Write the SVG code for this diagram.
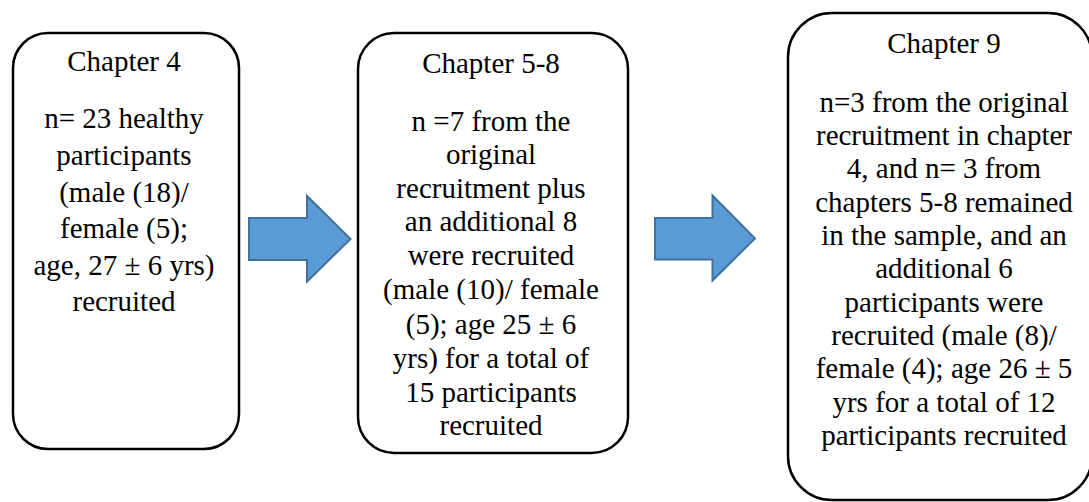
<svg xmlns="http://www.w3.org/2000/svg" width="1089" height="502" viewBox="0 0 1089 502">
<style>
.box{fill:#ffffff;stroke:#000000;stroke-width:2.5}
.arrow{fill:#5B9BD5;stroke:#41719C;stroke-width:2}
.t{font-family:'Liberation Serif','Times New Roman',Tinos,'DejaVu Serif',serif;font-size:29px;fill:#000000;text-anchor:middle}
</style>
<rect width="1089" height="502" fill="#ffffff"/>
<g id="connectors">
<polygon class="arrow" points="249,218 307,218 307,196 350.5,239 307,281.5 307,260 249,260"/>
<polygon class="arrow" points="655,218 712.5,218 712.5,195.5 755,238.5 712.5,280.5 712.5,259.5 655,259.5"/>
</g>
<g id="node-ch4" class="t" font-family="Liberation Serif, DejaVu Serif, serif">
<rect class="box" x="13" y="33" width="226" height="416" rx="35" ry="35"/>
<text x="124" y="71">Chapter 4</text>
<text x="124" y="128">n= 23 healthy</text>
<text x="124" y="165">participants</text>
<text x="124" y="201.5">(male (18)/</text>
<text x="124" y="238">female (5);</text>
<text x="124" y="274.5">age, 27 ± 6 yrs)</text>
<text x="124" y="311">recruited</text>
</g>
<g id="node-ch5-8" class="t" font-family="Liberation Serif, DejaVu Serif, serif">
<rect class="box" x="358" y="33" width="270" height="420" rx="36" ry="36"/>
<text x="491" y="73">Chapter 5-8</text>
<text x="491" y="130.5">n =7 from the</text>
<text x="491" y="164">original</text>
<text x="491" y="197.5">recruitment plus</text>
<text x="491" y="231">an additional 8</text>
<text x="491" y="265">were recruited</text>
<text x="491" y="298.5">(male (10)/ female</text>
<text x="491" y="334">(5); age 25 ± 6</text>
<text x="491" y="368">yrs) for a total of</text>
<text x="491" y="401.5">15 participants</text>
<text x="491" y="435">recruited</text>
</g>
<g id="node-ch9" class="t" font-family="Liberation Serif, DejaVu Serif, serif">
<rect class="box" x="788" y="13" width="304" height="487" rx="44" ry="44"/>
<text x="944" y="53">Chapter 9</text>
<text x="944" y="111.5">n=3 from the original</text>
<text x="944" y="145">recruitment in chapter</text>
<text x="944" y="178">4, and n= 3 from</text>
<text x="944" y="211.5">chapters 5-8 remained</text>
<text x="944" y="245">in the sample, and an</text>
<text x="944" y="278">additional 6</text>
<text x="944" y="311.5">participants were</text>
<text x="944" y="345">recruited (male (8)/</text>
<text x="944" y="378">female (4); age 26 ± 5</text>
<text x="944" y="411.5">yrs for a total of 12</text>
<text x="944" y="445">participants recruited</text>
</g>
</svg>
